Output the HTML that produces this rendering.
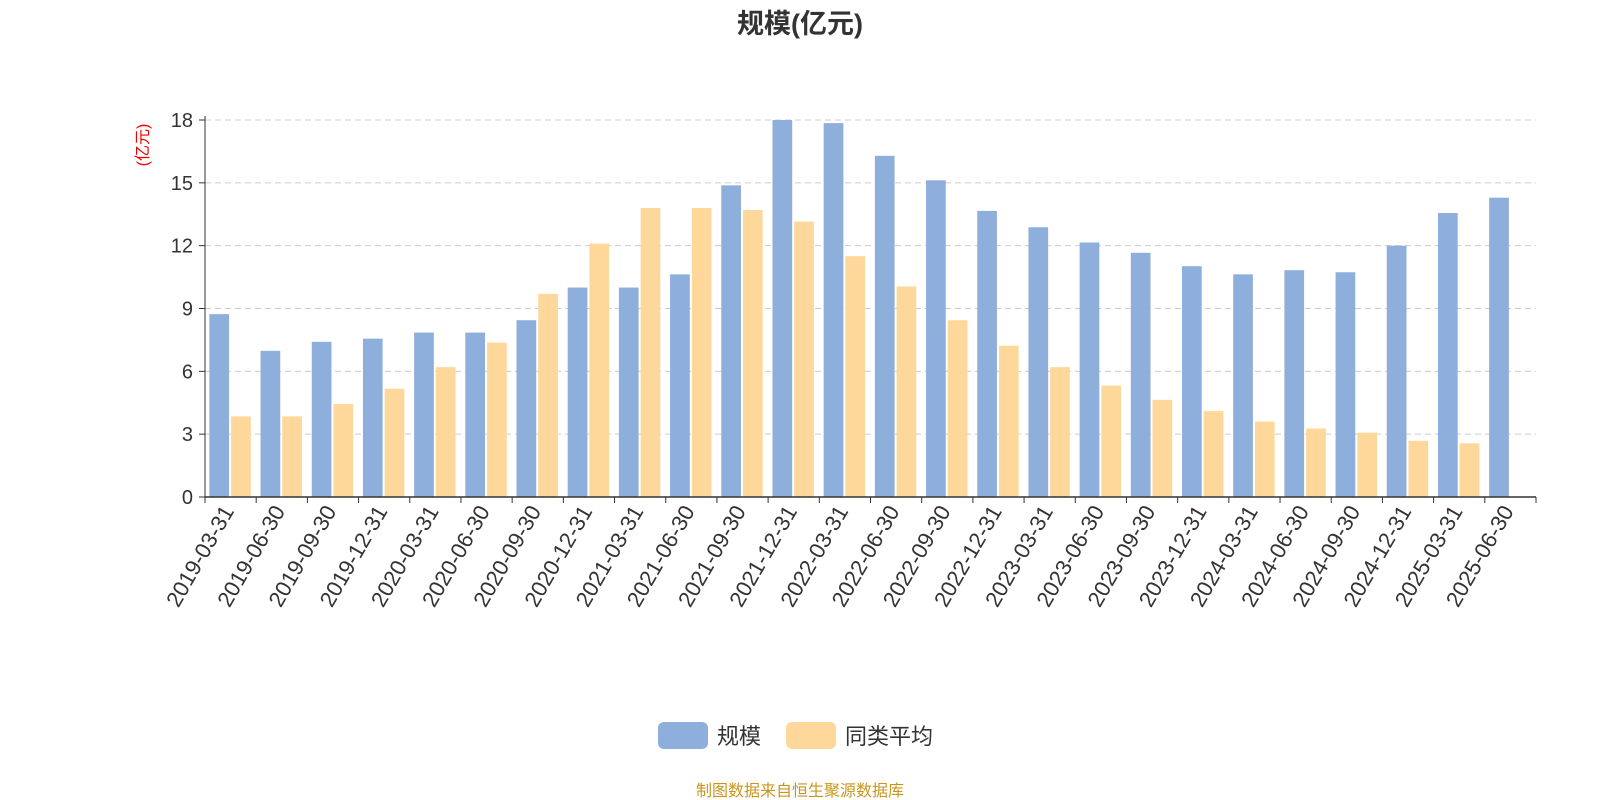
<!DOCTYPE html>
<html><head><meta charset="utf-8"><style>
html,body{margin:0;padding:0;background:#fff;}
svg{display:block;font-family:"Liberation Sans","Noto Sans CJK SC",sans-serif;}
</style></head><body>
<svg id="chart" width="1600" height="800" viewBox="0 0 1600 800">
<text x="800" y="33" text-anchor="middle" font-size="27" font-weight="bold" fill="#333">规模(亿元)</text>
<text transform="translate(148,145) rotate(-90)" text-anchor="middle" font-size="16" fill="#e00">(亿元)</text>
<g id="grid"></g>
<g id="bars"></g>
<g id="axes"></g>
<g>
<g><rect x="658" y="722" width="50" height="27" rx="6" fill="#8eaedb"/><text x="717" y="744" font-size="22" fill="#333">规模</text></g>
<g><rect x="786" y="722" width="50" height="27" rx="6" fill="#fed89a"/><text x="845" y="744" font-size="22" fill="#333">同类平均</text></g>
</g>
<text x="800" y="796" text-anchor="middle" font-size="16" fill="#c8961e">制图数据来自恒生聚源数据库</text>
</svg>
<script>
const categories=["2019-03-31","2019-06-30","2019-09-30","2019-12-31","2020-03-31","2020-06-30","2020-09-30","2020-12-31","2021-03-31","2021-06-30","2021-09-30","2021-12-31","2022-03-31","2022-06-30","2022-09-30","2022-12-31","2023-03-31","2023-06-30","2023-09-30","2023-12-31","2024-03-31","2024-06-30","2024-09-30","2024-12-31","2025-03-31","2025-06-30"];
const scaleValues=[8.73,6.98,7.41,7.56,7.85,7.85,8.44,10.0,10.0,10.63,14.88,18.0,17.85,16.29,15.12,13.66,12.88,12.15,11.66,11.02,10.63,10.83,10.73,12.0,13.56,14.29];
const avgValues=[3.85,3.85,4.44,5.17,6.2,7.37,9.7,12.1,13.8,13.8,13.7,13.15,11.5,10.05,8.44,7.22,6.2,5.32,4.64,4.1,3.6,3.27,3.07,2.68,2.56,null];
const yTicks=[0,3,6,9,12,15,18];
const NS="http://www.w3.org/2000/svg";
const L=205,R=1536,T=120,B=497,yMax=18;
const band=(R-L)/categories.length;
const y=v=>B-(v/yMax)*(B-T);
const x=i=>L+i*band;
function mk(tag,attrs,parent){const e=document.createElementNS(NS,tag);for(const k in attrs)e.setAttribute(k,attrs[k]);parent.appendChild(e);return e;}
const grid=document.getElementById('grid'),bars=document.getElementById('bars'),axes=document.getElementById('axes');
yTicks.forEach(t=>{
  if(t>0){const g=mk('line',{x1:L,x2:R,y1:y(t),y2:y(t),stroke:'#ccc','stroke-dasharray':'6,4'},grid);
  
  }
  const tk=mk('line',{x1:L-6,x2:L,y1:y(t),y2:y(t),stroke:'#333'},axes);
  
  
  const tl=mk('text',{x:L-12,y:y(t)+7,'text-anchor':'end','font-size':20,fill:'#333'},axes);
  tl.textContent=t;
  
  
});
const bw=band*0.385;
categories.forEach((c,i)=>{
  const b1=mk('rect',{x:x(i)+band*0.085,y:y(scaleValues[i]),width:bw,height:B-y(scaleValues[i]),fill:'#8eaedb'},bars);
  
  
  if(avgValues[i]!=null){
    const b2=mk('rect',{x:x(i)+band*0.085+bw+2,y:y(avgValues[i]),width:bw,height:B-y(avgValues[i]),fill:'#fed89a'},bars);
    
    
  }
  const cx=x(i)+band/2;
  const lb=mk('text',{x:0,y:0,transform:`translate(${cx+4},${B+14}) rotate(-60)`,'text-anchor':'end','font-size':22,fill:'#333'},axes);
  lb.textContent=c;
  
  
});
for(let i=0;i<=categories.length;i++){
  const tk=mk('line',{x1:x(i),x2:x(i),y1:B,y2:B+6,stroke:'#333'},axes);
  
  
}
const ya=mk('line',{x1:L,x2:L,y1:T-4,y2:B,stroke:'#333'},axes);


const xa=mk('line',{x1:L,x2:R,y1:B,y2:B,stroke:'#333','stroke-width':1.5},axes);


</script>
</body></html>
